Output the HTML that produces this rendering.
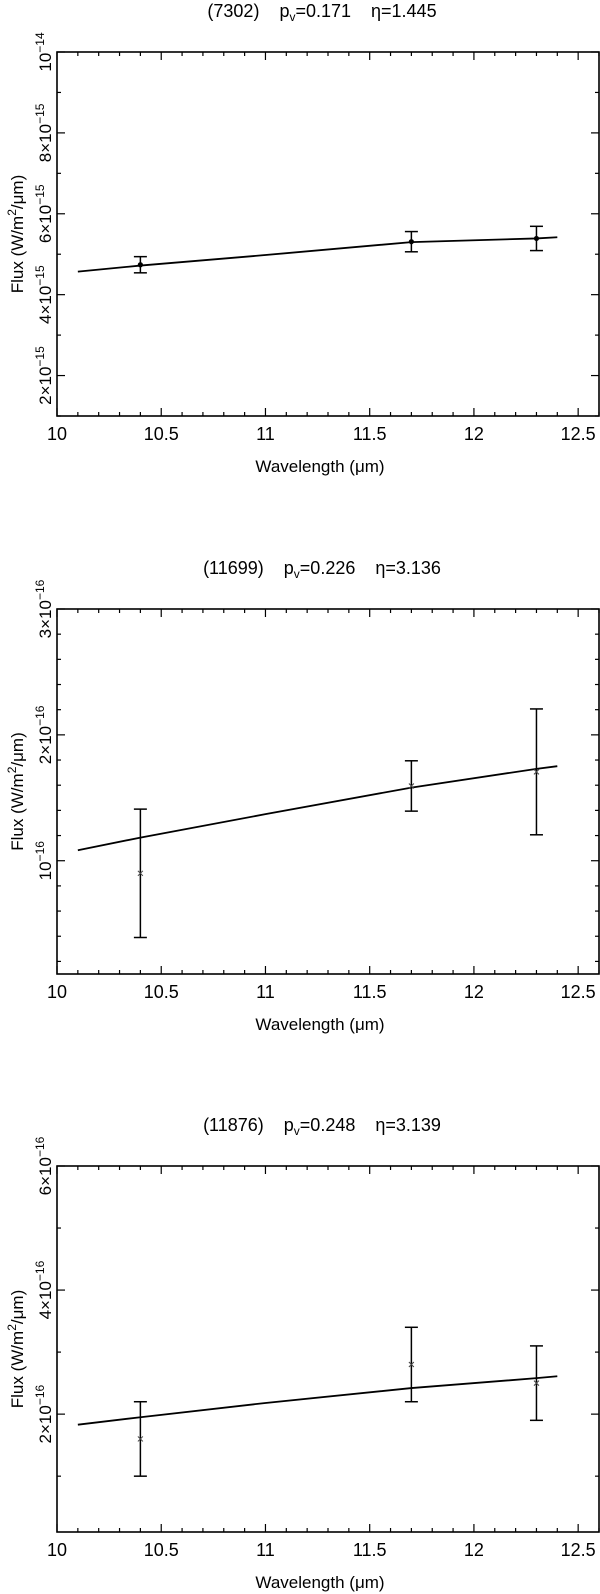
<!DOCTYPE html>
<html><head><meta charset="utf-8"><style>
html,body{margin:0;padding:0;background:#fff;}
svg{display:block;font-family:"Liberation Sans",sans-serif;}
</style></head><body>
<svg id="chart" width="600" height="1594" viewBox="0 0 600 1594" xmlns="http://www.w3.org/2000/svg"></svg>
<script>
// Shared x axis
const xTicksMajor = [10, 10.5, 11, 11.5, 12, 12.5];
const xTickLabels = ["10", "10.5", "11", "11.5", "12", "12.5"];

// Panel 1 (7302)
const p1Title = ["(7302)", "0.171", "1.445"];
const p1X = [10.4, 11.7, 12.3];
const p1Y = [4.74, 5.31, 5.39];
const p1Err = [0.2, 0.25, 0.3];
const p1ModelX = [10.1, 10.4, 11.0, 11.7, 12.3, 12.4];
const p1ModelY = [4.57, 4.72, 4.98, 5.30, 5.39, 5.42];
const p1TickVals = [2, 4, 6, 8, 10];
const p1TickLabels = [["2×10","−15"],["4×10","−15"],["6×10","−15"],["8×10","−15"],["10","−14"]];

// Panel 2 (11699)
const p2Title = ["(11699)", "0.226", "3.136"];
const p2X = [10.4, 11.7, 12.3];
const p2Y = [0.90, 1.594, 1.706];
const p2Err = [0.51, 0.20, 0.50];
const p2ModelX = [10.1, 10.4, 11.0, 11.7, 12.3, 12.4];
const p2ModelY = [1.083, 1.184, 1.37, 1.581, 1.73, 1.751];
const p2TickVals = [1, 2, 3];
const p2TickLabels = [["10","−16"],["2×10","−16"],["3×10","−16"]];

// Panel 3 (11876)
const p3Title = ["(11876)", "0.248", "3.139"];
const p3X = [10.4, 11.7, 12.3];
const p3Y = [1.6, 2.8, 2.5];
const p3Err = [0.6, 0.6, 0.6];
const p3ModelX = [10.1, 10.4, 11.0, 11.7, 12.3, 12.4];
const p3ModelY = [1.83, 1.95, 2.18, 2.42, 2.58, 2.61];
const p3TickVals = [2, 4, 6];
const p3TickLabels = [["2×10","−16"],["4×10","−16"],["6×10","−16"]];

const NS = "http://www.w3.org/2000/svg";
const svg = document.getElementById("chart");
function mk(tag, attrs, parent) {
  const e = document.createElementNS(NS, tag);
  for (const k in attrs) e.setAttribute(k, attrs[k]);
  (parent || svg).appendChild(e);
  return e;
}

const panels = [
  {name:"panel-7302", top:52, bottom:416, ymin:1, ymax:10, minorStep:1, title:p1Title, xs:p1X, ys:p1Y, err:p1Err, mx:p1ModelX, my:p1ModelY, tv:p1TickVals, tl:p1TickLabels, marker:"dot"},
  {name:"panel-11699", top:609, bottom:974, ymin:0.1, ymax:3, minorStep:0.2, title:p2Title, xs:p2X, ys:p2Y, err:p2Err, mx:p2ModelX, my:p2ModelY, tv:p2TickVals, tl:p2TickLabels, marker:"cross"},
  {name:"panel-11876", top:1166, bottom:1532, ymin:0.1, ymax:6, minorStep:1, title:p3Title, xs:p3X, ys:p3Y, err:p3Err, mx:p3ModelX, my:p3ModelY, tv:p3TickVals, tl:p3TickLabels, marker:"cross"}
];

const L = 57, R = 599, XMIN = 10, XMAX = 12.6;
function sx(v){ return L + (v - XMIN) / (XMAX - XMIN) * (R - L); }

panels.forEach(function(p){
  const g = mk("g", {});
  
  
  const sy = function(v){ return p.bottom - (v - p.ymin) / (p.ymax - p.ymin) * (p.bottom - p.top); };

  // title
  const t = mk("text", {x:322, y:p.top - 35, "text-anchor":"middle", "font-size":"18"}, g);
  
  
  t.innerHTML = p.title[0] + '\u00a0\u00a0\u00a0\u00a0p<tspan font-size="12" dy="4">v</tspan><tspan dy="-4">=' + p.title[1] + '\u00a0\u00a0\u00a0\u00a0η=' + p.title[2] + '</tspan>';

  // frame
  const fr = mk("rect", {x:L, y:p.top, width:R-L, height:p.bottom-p.top, fill:"none", stroke:"#000", "stroke-width":"1.6"}, g);
  
  

  // x ticks
  const xt = mk("g", {stroke:"#000", "stroke-width":"1.2"}, g);
  
  
  for (let i = 0; i <= 26; i++) {
    const v = XMIN + i * 0.1;
    const major = (i % 5 === 0);
    const len = major ? 8 : 4;
    const x = sx(v);
    mk("line", {x1:x, x2:x, y1:p.bottom, y2:p.bottom - len}, xt);
    mk("line", {x1:x, x2:x, y1:p.top, y2:p.top + len}, xt);
  }
  xTicksMajor.forEach(function(v, i){
    const tx = mk("text", {x:sx(v), y:p.bottom + 24, "text-anchor":"middle", "font-size":"18"}, g);
    
    
    tx.textContent = xTickLabels[i];
  });
  const xl = mk("text", {x:320, y:p.bottom + 56, "text-anchor":"middle", "font-size":"17"}, g);
  
  
  xl.textContent = "Wavelength (μm)";

  // y ticks
  const yt = mk("g", {stroke:"#000", "stroke-width":"1.2"}, g);
  
  
  const majStep = p.tv[1] - p.tv[0];
  const start = Math.ceil((p.ymin - 1e-9) / p.minorStep) * p.minorStep;
  for (let v = start; v <= p.ymax + 1e-9; v += p.minorStep) {
    const r = v / majStep;
    const major = Math.abs(r - Math.round(r)) < 1e-6;
    const len = major ? 8 : 4;
    const y = sy(v);
    mk("line", {x1:L, x2:L + len, y1:y, y2:y}, yt);
    mk("line", {x1:R, x2:R - len, y1:y, y2:y}, yt);
  }
  p.tv.forEach(function(v, i){
    const y = sy(v);
    const ty = mk("text", {x:51, y:y, transform:"rotate(-90 51 " + y + ")", "text-anchor":"middle", "font-size":"17"}, g);
    
    
    ty.innerHTML = p.tl[i][0] + '<tspan font-size="12" dy="-7">' + p.tl[i][1] + '</tspan>';
  });
  const yc = (p.top + p.bottom) / 2;
  const yl = mk("text", {x:23, y:yc, transform:"rotate(-90 23 " + yc + ")", "text-anchor":"middle", "font-size":"17"}, g);
  
  
  yl.innerHTML = 'Flux (W/m<tspan font-size="12" dy="-7">2</tspan><tspan dy="7">/μm)</tspan>';

  // model curve
  let d = "";
  p.mx.forEach(function(v, i){ d += (i ? "L" : "M") + sx(v).toFixed(2) + " " + sy(p.my[i]).toFixed(2); });
  const ml = mk("path", {d:d, fill:"none", stroke:"#000", "stroke-width":"1.8"}, g);
  
  

  // data points
  p.xs.forEach(function(v, i){
    const pg = mk("g", {stroke:"#000", "stroke-width":"1.5"}, g);
    
    
    const x = sx(v), y = sy(p.ys[i]);
    const y1 = sy(p.ys[i] + p.err[i]), y2 = sy(p.ys[i] - p.err[i]);
    mk("line", {x1:x, x2:x, y1:y1, y2:y2}, pg);
    mk("line", {x1:x - 6.5, x2:x + 6.5, y1:y1, y2:y1}, pg);
    mk("line", {x1:x - 6.5, x2:x + 6.5, y1:y2, y2:y2}, pg);
    if (p.marker === "dot") {
      mk("circle", {cx:x, cy:y, r:2.6, fill:"#000", stroke:"none"}, pg);
    } else {
      mk("path", {d:"M"+(x-2.5)+" "+(y-2.5)+"L"+(x+2.5)+" "+(y+2.5)+"M"+(x-2.5)+" "+(y+2.5)+"L"+(x+2.5)+" "+(y-2.5), "stroke-width":"1", stroke:"#444"}, pg);
    }
  });
});
</script>
</body></html>
